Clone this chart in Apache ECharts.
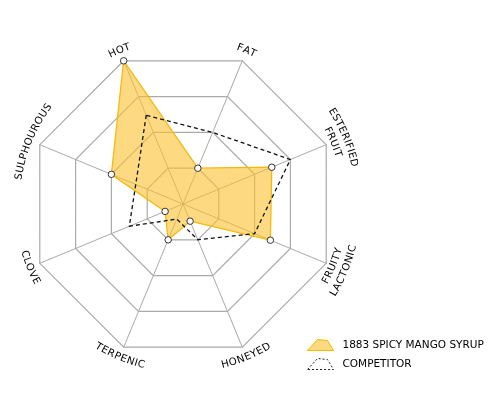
<!DOCTYPE html>
<html>
<head>
<meta charset="utf-8">
<script src="https://cdn.jsdelivr.net/npm/echarts@6/dist/echarts.min.js"></script>
<style>
html,body{margin:0;padding:0;background:#fff;}
#chart{width:500px;height:417px;}
</style>
</head>
<body>
<div id="chart"></div>
<script>
// Indicators in radar order (ECharts places them counter-clockwise from startAngle)
const categories = ['HOT', 'SULPHOUROUS', 'CLOVE', 'TERPENIC', 'HONEYED', 'FRUITY\nLACTONIC', 'ESTERIFIED\nFRUIT', 'FAT'];
const seriesNames = ['1883 SPICY MANGO SYRUP', 'COMPETITOR'];
const mangoValues = [10, 5, 1.25, 2.5, 1.2, 6.1, 6.2, 2.5];
const competitorValues = [6.2, 3.3, 3.75, 1.05, 2.5, 5, 7.5, 5];
const axisMax = 10;

const CX = 183, CY = 204, R = 155, START = 112.5;
const FONT_FAMILY = 'DejaVu Sans';
const FONT_SIZE = 10.2;

const chart = echarts.init(document.getElementById('chart'));

// curved axis names, built from the radar layout
const cv = document.createElement('canvas').getContext('2d');
cv.font = FONT_SIZE + 'px "' + FONT_FAMILY + '"';
const SPACING = 0.4;
const graphics = [];
categories.forEach(function (name, i) {
  const mathAng = START + i * 360 / categories.length;
  let phiDeg = 90 - mathAng;
  while (phiDeg <= -180) phiDeg += 360;
  while (phiDeg > 180) phiDeg -= 360;
  const phi = phiDeg * Math.PI / 180;
  const top = Math.abs(phiDeg) < 90;
  const lines = name.split('\n');
  lines.forEach(function (line, k) {
    let rho;
    if (lines.length === 1) rho = 166;
    else {
      const isOuter = top ? (k === 0) : (k === 1);
      rho = isOuter ? 175.5 : 162.5;
    }
    const chars = line.split('');
    const pos = [];
    let acc = 0;
    chars.forEach(function (ch, j) {
      const w = cv.measureText(ch).width;
      pos.push(acc + w / 2);
      acc += w + (j < chars.length - 1 ? SPACING : 0);
    });
    const W = acc;
    chars.forEach(function (ch, j) {
      let a, rot;
      if (top) {
        a = phi + (pos[j] - W / 2) / rho;
        rot = -a;
      } else {
        a = phi - (pos[j] - W / 2) / rho;
        rot = Math.PI - a;
      }
      graphics.push({
        type: 'text',
        x: CX + rho * Math.sin(a),
        y: CY - rho * Math.cos(a),
        rotation: rot,
        silent: true,
        style: {
          text: ch,
          fontSize: FONT_SIZE,
          fontFamily: FONT_FAMILY,
          fill: '#000',
          align: 'center',
          verticalAlign: 'middle'
        }
      });
    });
  });
});

const option = {
  backgroundColor: '#fff',
  animation: false,
  legend: {
    orient: 'vertical',
    left: 307,
    top: 339,
    itemWidth: 26,
    itemHeight: 11,
    itemGap: 7,
    padding: 0,
    textStyle: { fontSize: 10.5, fontFamily: FONT_FAMILY, color: '#000', padding: [0, 0, 0, 4] },
    data: [
      {
        name: seriesNames[0],
        icon: 'path://M0,11 L10,0 L20,1 L26,11 Z',
        itemStyle: { color: '#FDD981', borderColor: '#F2B800', borderWidth: 1 }
      },
      {
        name: seriesNames[1],
        icon: 'path://M0,11 L10,0 L20,1 L26,11 Z',
        itemStyle: { color: 'rgba(0,0,0,0)', borderColor: '#222', borderWidth: 1, borderType: [2, 2] }
      }
    ]
  },
  radar: {
    center: [CX, CY],
    radius: R,
    startAngle: START,
    splitNumber: 4,
    shape: 'polygon',
    indicator: categories.map(function (n) { return { name: n, min: 0, max: axisMax }; }),
    axisName: { show: false },
    axisLine: { lineStyle: { color: '#aaaaaa', width: 1 } },
    splitLine: { lineStyle: { color: '#aaaaaa', width: 1.2 } },
    splitArea: { show: false }
  },
  series: [
    {
      name: seriesNames[0],
      type: 'radar',
      z: 2,
      symbol: 'circle',
      symbolSize: 6.5,
      itemStyle: { color: '#fff', borderColor: '#333', borderWidth: 1 },
      lineStyle: { color: '#F2B800', width: 1.3 },
      areaStyle: { color: '#FBC02D', opacity: 0.6 },
      data: [{ name: seriesNames[0], value: mangoValues }]
    },
    {
      name: seriesNames[1],
      type: 'radar',
      z: 3,
      symbol: 'none',
      lineStyle: { color: '#111', width: 1.3, type: [4, 3] },
      data: [{ name: seriesNames[1], value: competitorValues }]
    }
  ],
  graphic: graphics
};
chart.setOption(option);
</script>
</body>
</html>
